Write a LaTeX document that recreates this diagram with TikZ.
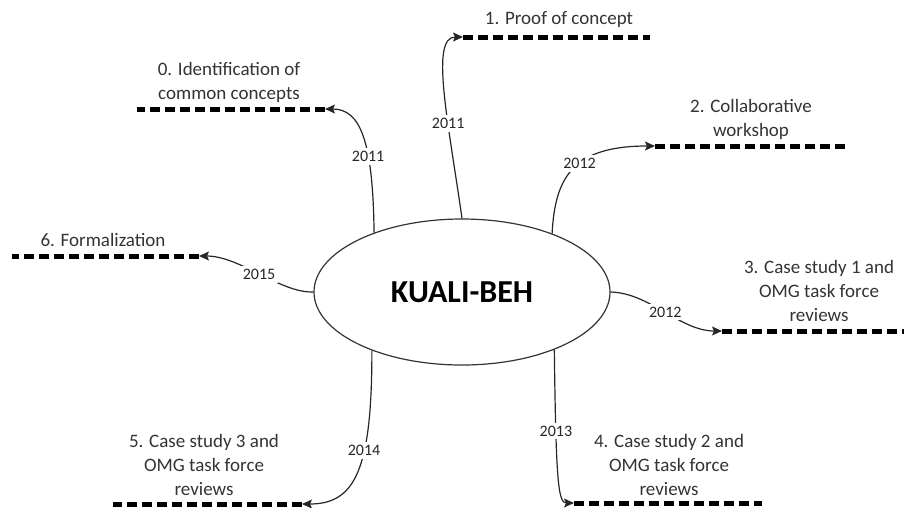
\documentclass[tikz,border=0pt]{standalone}
\usepackage{fontspec}
\setmainfont{Carlito}
\usetikzlibrary{shapes.geometric,arrows.meta}

\tikzset{
  phase/.style={align=center, font=\fontsize{19}{24}\selectfont, text=black!80, inner sep=0pt},
  year/.style={fill=white, inner sep=3pt, font=\fontsize{16}{16}\selectfont, text=black!85},
  conn/.style={draw=black!85, line width=1.2pt, -{Stealth[length=10pt,width=9pt,inset=2pt]}},
  track/.style={line width=5pt, dash pattern=on 10pt off 5pt},
}

\begin{document}
\begin{tikzpicture}[x=1pt, y=-1pt]
        \useasboundingbox (0,0) rectangle (904,507);

        \node[ellipse, draw=black!80, line width=1.2pt, minimum width=296pt, minimum height=146pt, inner sep=0pt,
              font=\fontsize{32}{32}\selectfont\bfseries] (kuali) at (462,292) {KUALI-BEH};

        % phases
        \node[phase] (t0) at (229,82) {0. Identification of\\common concepts};
        \node[phase] (t1) at (559,20) {1. Proof of concept};
        \node[phase] (t2) at (751,119) {2. Collaborative\\workshop};
        \node[phase] (t3) at (819,291) {3. Case study 1 and\\OMG task force\\reviews};
        \node[phase] (t4) at (669,465) {4. Case study 2 and\\OMG task force\\reviews};
        \node[phase] (t5) at (204,465) {5. Case study 3 and\\OMG task force\\reviews};
        \node[phase] (t6) at (103,240) {6. Formalization};

        % dashed tracks
        \coordinate (s0) at (325,109); \coordinate (e0) at (137,109);
        \coordinate (s1) at (463,37);  \coordinate (e1) at (650,37);
        \coordinate (s2) at (655,146); \coordinate (e2) at (845,146);
        \coordinate (s3) at (722,331); \coordinate (e3) at (904,331);
        \coordinate (s4) at (574,503); \coordinate (e4) at (762,503);
        \coordinate (s5) at (302,504); \coordinate (e5) at (113,504);
        \coordinate (s6) at (199,256); \coordinate (e6) at (12,256);

        \draw[track] (s0) -- (e0);
        \draw[track] (s1) -- (e1);
        \draw[track] (s2) -- (e2);
        \draw[track] (s3) -- (e3);
        \draw[track] (s4) -- (e4);
        \draw[track] (s5) -- (e5);
        \draw[track] (s6) -- (e6);

        % connectors
        \draw[conn] (kuali.146) .. controls (373,140) and (360,109) .. (s0) node[year, pos=.35] {2011};
        \draw[conn] (kuali.north) .. controls (448,120) and (430,37) .. (s1) node[year, pos=.35] {2011};
        \draw[conn] (kuali.33) .. controls (555,175) and (575,146) .. (s2) node[year, pos=.55] {2012};
        \draw[conn] (kuali.east) .. controls (650,293) and (680,331) .. (s3) node[year, pos=.5] {2012};
        \draw[conn] (kuali.-32) .. controls (556,480) and (558,503) .. (s4) node[year, pos=.26] {2013};
        \draw[conn] (kuali.213) .. controls (372,470) and (355,504) .. (s5) node[year, pos=.37] {2014};
        \draw[conn] (kuali.west) .. controls (280,293) and (240,256) .. (s6) node[year, pos=.5] {2015};
\end{tikzpicture}
\end{document}
